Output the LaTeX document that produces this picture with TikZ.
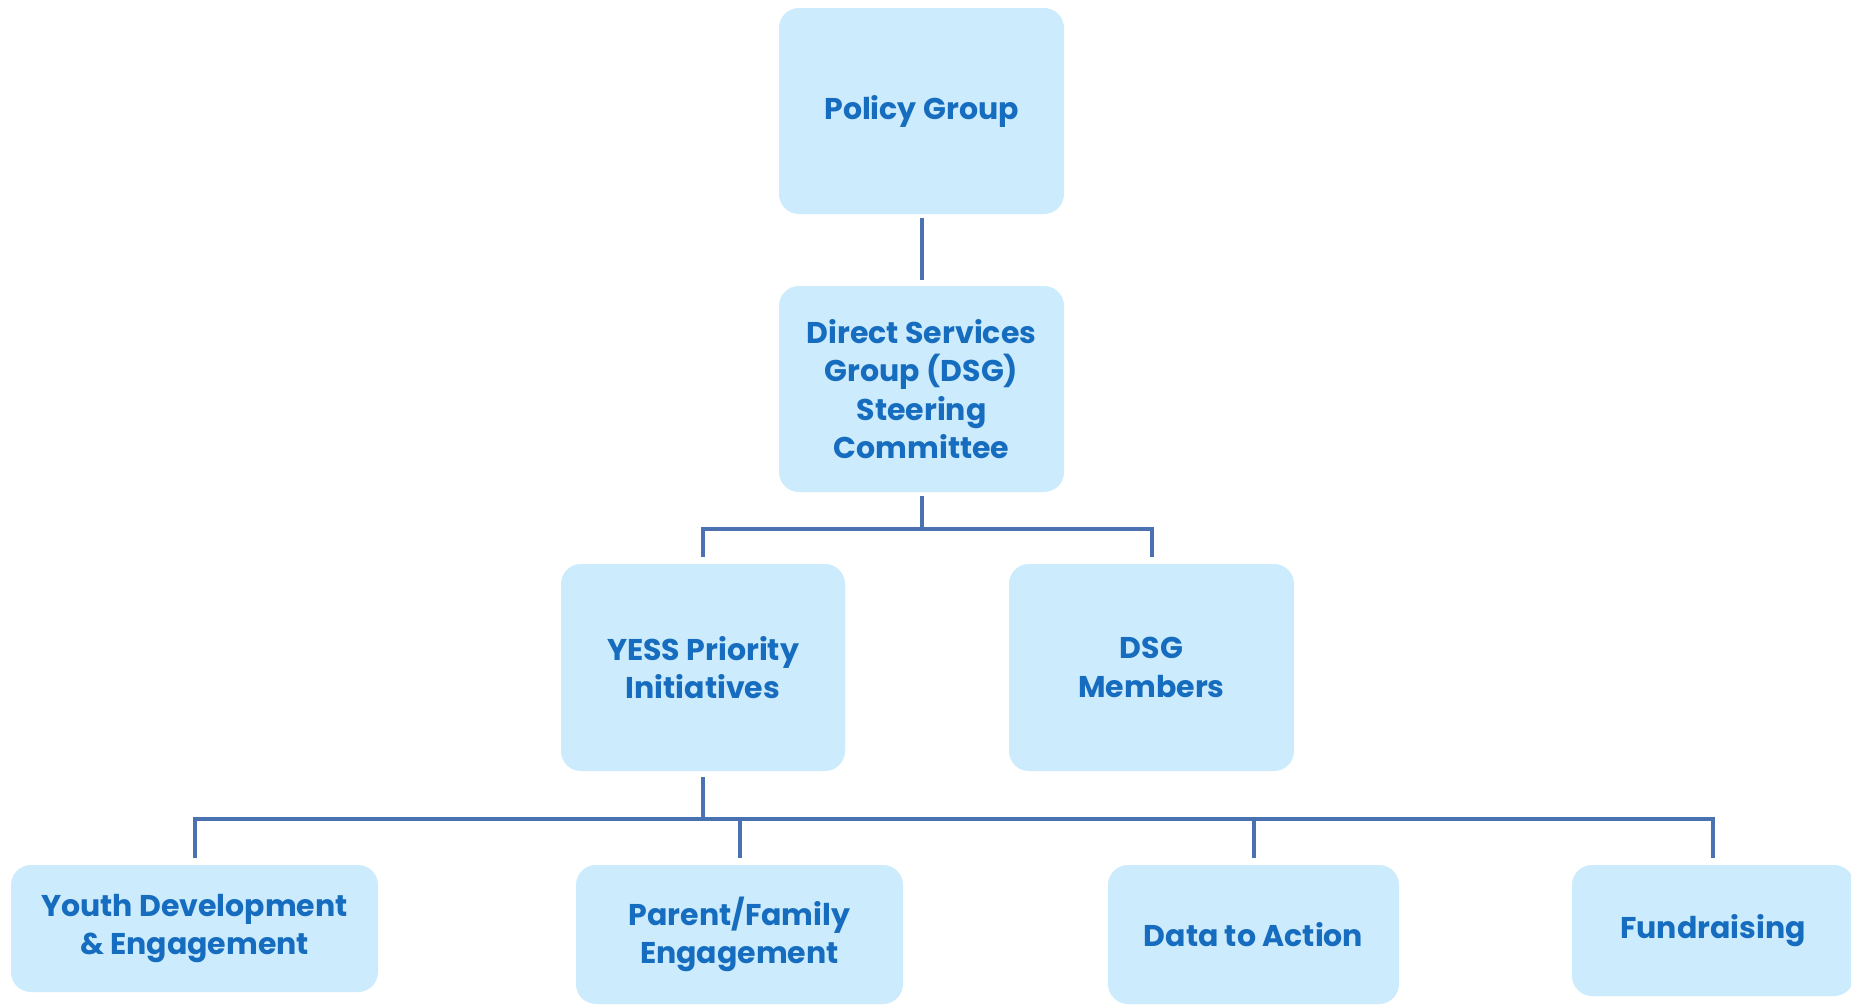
\documentclass[tikz,border=0pt]{standalone}
\usepackage{fontspec}
\setmainfont{Poppins}
\definecolor{boxfill}{RGB}{204,235,252}
\definecolor{boxtext}{RGB}{22,108,190}
\definecolor{linec}{RGB}{74,114,176}
\begin{document}
\begin{tikzpicture}[x=1pt,y=-1pt,
  orgbox/.style={fill=boxfill, rounded corners=20pt, draw=none, text=boxtext,
    align=center, inner sep=0pt, font=\fontsize{30}{38.5}\selectfont\bfseries},
  conn/.style={draw=linec, line width=4pt}]
\useasboundingbox (0,0) rectangle (1851,1004);
\fill[white] (0,0) rectangle (1851,1004);
\node[orgbox, minimum width=285pt, minimum height=206pt] (policy) at (921.5,111) {Policy Group};
\node[orgbox, minimum width=285pt, minimum height=206pt] (dsg) at (921.5,389) {Direct Services\\Group (DSG)\\Steering\\Committee};
\node[orgbox, minimum width=284pt, minimum height=207pt] (yess) at (703,667.5) {YESS Priority\\Initiatives};
\node[orgbox, minimum width=285pt, minimum height=207pt] (members) at (1151.5,667.5) {DSG\\Members};
\node[orgbox, minimum width=367pt, minimum height=127pt] (youth) at (194.5,928.5) {Youth Development\\\& Engagement};
\node[orgbox, minimum width=327pt, minimum height=139pt] (parent) at (739.5,934.5) {Parent/Family\\Engagement};
\node[orgbox, minimum width=291pt, minimum height=139pt] (data) at (1253.5,934.5) {Data to Action};
\node[orgbox, minimum width=282pt, minimum height=131pt] (fund) at (1713,930.5) {Fundraising};
% connectors
\draw[conn] ([yshift=-4pt]policy.south) -- ([yshift=6pt]dsg.north);
\coordinate (bus1) at (0,529);
\draw[conn] ([yshift=-4pt]dsg.south) -- (dsg.south |- bus1);
\draw[conn] ([yshift=7pt]yess.north) -- (yess.north |- bus1) -- (members.north |- bus1) -- ([yshift=7pt]members.north);
\coordinate (bus2) at (0,819);
\draw[conn] ([yshift=-6pt]yess.south) -- (yess.south |- bus2);
\draw[conn] ([yshift=7pt]youth.north) -- (youth.north |- bus2) -- (fund.north |- bus2) -- ([yshift=7pt]fund.north);
\draw[conn] (parent.north |- bus2) -- ([yshift=7pt]parent.north);
\draw[conn] (data.north |- bus2) -- ([yshift=7pt]data.north);
\end{tikzpicture}
\end{document}
